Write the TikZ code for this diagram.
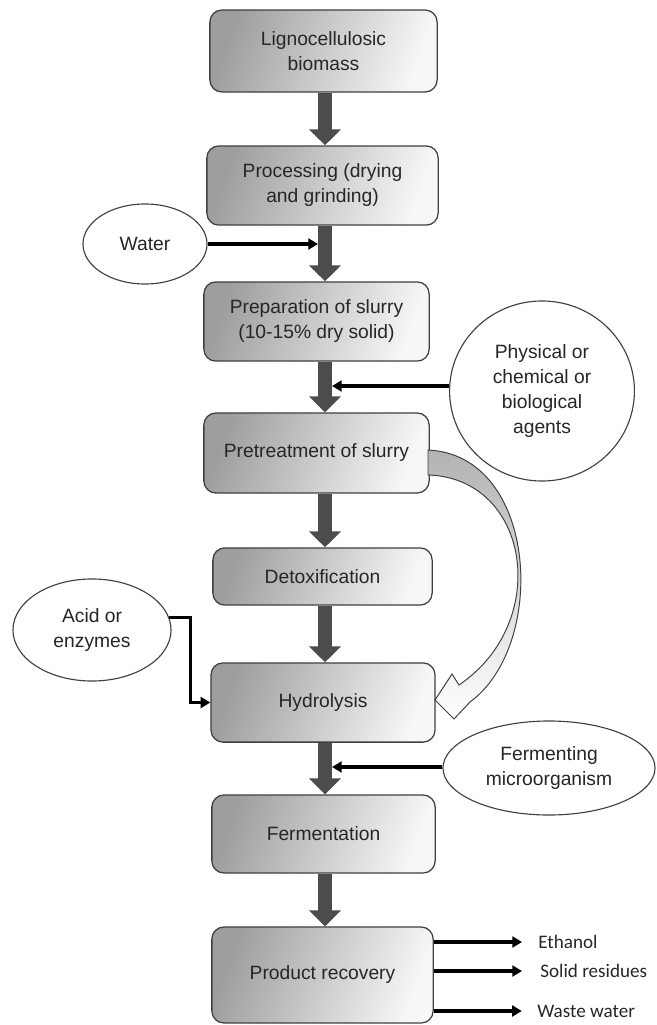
\documentclass[tikz,border=0pt]{standalone}
\usepackage{fontspec}
\setmainfont{Liberation Sans}
\newfontfamily\outfont{Carlito}
\usetikzlibrary{shapes.geometric, arrows.meta}

\tikzset{
    stage/.style = {draw = black!75, line width = 0.9pt, rounded corners = 0.3cm,
        left color = black!38, right color = black!3, shading angle = 70,
        align = center, text = black!85, inner sep = 0pt,
        font = \fontsize{13.7pt}{17.8pt}\selectfont},
    agent/.style = {ellipse, draw = black!75, line width = 0.8pt, fill = white,
        align = center, text = black!85, inner sep = 0pt,
        font = \fontsize{13.7pt}{17.8pt}\selectfont},
    flow/.style = {draw = black!70, line width = 0.35cm,
        -{Triangle[length = 0.4cm, width = 0.78cm]}},
    feed/.style = {draw = black, line width = 0.085cm,
        -{Triangle[length = 0.24cm, width = 0.27cm]}},
    outlabel/.style = {anchor = west, inner sep = 0pt, text = black!85,
        font = \outfont\fontsize{13.6pt}{16pt}\selectfont}
}

\begin{document}
\begin{tikzpicture}[x = 0.025cm, y = -0.025cm]
    \useasboundingbox (0,0) rectangle (657,1025);
    \coordinate (spine) at (325,0);

    \node[stage, minimum width = 5.68cm, minimum height = 2.05cm] (ligno) at (323.5,51) {Lignocellulosic\\biomass};
    \node[stage, minimum width = 5.78cm, minimum height = 1.98cm] (proc) at (322.5,185.5) {Processing (drying\\and grinding)};
    \node[stage, minimum width = 5.63cm, minimum height = 1.98cm] (slurry) at (316.5,321.5) {Preparation of slurry\\(10-15\% dry solid)};
    \node[stage, minimum width = 5.63cm, minimum height = 2cm] (pretreat) at (316.5,453) {Pretreatment of slurry};
    \node[stage, minimum width = 5.48cm, minimum height = 1.43cm] (detox) at (322.5,576.5) {Detoxification};
    \node[stage, minimum width = 5.6cm, minimum height = 1.98cm] (hydro) at (323,702.5) {Hydrolysis};
    \node[stage, minimum width = 5.58cm, minimum height = 1.95cm] (ferment) at (323.5,834) {Fermentation};
    \node[stage, minimum width = 5.53cm, minimum height = 2.4cm] (recov) at (322.5,975) {Product recovery};

    \node[agent, minimum width = 3.1cm, minimum height = 2cm] (water) at (145,244) {Water};
    \node[agent, minimum width = 4.62cm, minimum height = 4.5cm] (phys) at (542,391) {Physical or\\chemical or\\biological\\agents};
    \node[agent, minimum width = 3.95cm, minimum height = 2.55cm] (acid) at (92,630) {Acid or\\enzymes};
    \node[agent, minimum width = 5.3cm, minimum height = 2.35cm] (fermorg) at (549,768) {Fermenting\\microorganism};

    \draw[flow] (ligno.south -| spine) -- (proc.north -| spine);
    \draw[flow] (proc.south -| spine) -- (slurry.north -| spine);
    \draw[flow] (slurry.south -| spine) -- (pretreat.north -| spine);
    \draw[flow] (pretreat.south -| spine) -- (detox.north -| spine);
    \draw[flow] (detox.south -| spine) -- (hydro.north -| spine);
    \draw[flow] (hydro.south -| spine) -- (ferment.north -| spine);
    \draw[flow] (ferment.south -| spine) -- (recov.north -| spine);

    \coordinate (wjoin) at (318,244);
    \coordinate (pjoin) at (332,386);
    \coordinate (fjoin) at (332,767);
    \draw[feed] (water.east |- wjoin) -- (wjoin);
    \draw[feed] (phys.west |- pjoin) -- (pjoin);
    \draw[feed] (fermorg.west |- fjoin) -- (fjoin);
    \draw[feed] (acid.9) -- ++(21,0) |- (hydro.west);

    \draw[draw = black!75, line width = 0.7pt, top color = black!30, bottom color = white]
        (428,450) .. controls (538,455) and (548,645) .. (470,702) -- (454,719) -- (435,700)
        -- (452,674) -- (459,685) .. controls (552,622) and (530,478) .. (428,475) -- cycle;

    \node[outlabel] (eth) at (538,942) {Ethanol};
    \node[outlabel] (solid) at (540,971) {Solid residues};
    \node[outlabel] (waste) at (537,1011) {Waste water};
    \draw[feed] (recov.east |- eth) -- ([xshift = -0.4cm]eth.west);
    \draw[feed] (recov.east |- solid) -- ([xshift = -0.45cm]solid.west);
    \draw[feed] (recov.east |- waste) -- ([xshift = -0.38cm]waste.west);
\end{tikzpicture}
\end{document}
